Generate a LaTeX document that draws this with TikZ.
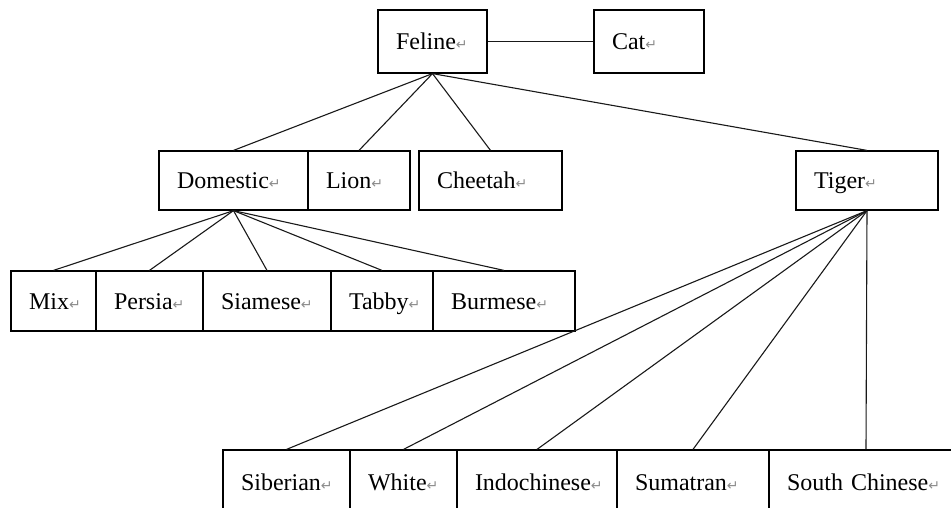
\documentclass[tikz,border=0pt]{standalone}
\usepackage{fontspec}
\setmainfont{Liberation Serif}
\newfontfamily\symfont{DejaVu Sans}
\newcommand{\retmark}{{\symfont\fontsize{14}{14}\selectfont\textcolor{black!45}{↵}}}
\begin{document}
\begin{tikzpicture}[x=1pt,y=-1pt,
  box/.style={draw=black, line width=1.2pt, inner xsep=18pt, inner ysep=0pt,
    align=left, font=\fontsize{24}{24}\selectfont, text height=16pt, text depth=0pt},
  link/.style={draw=black!90, line width=1.1pt}]
\useasboundingbox (0,0) rectangle (951,507);
\clip (0,0) rectangle (951,507);
\fill[white] (0,0) rectangle (951,507);
% top level
\node[box, minimum height=63pt, text width=73pt] (feline) at (432.5,41.5) {Feline\retmark};
\node[box, minimum height=63pt, text width=74pt] (cat) at (649,41.5) {Cat\retmark};
% second level
\node[box, minimum height=59pt, text width=113pt] (domestic) at (233.5,180.5) {Domestic\retmark};
\node[box, minimum height=59pt, text width=66pt] (lion) at (359,180.5) {Lion\retmark};
\node[box, minimum height=59pt, text width=107pt] (cheetah) at (490.5,180.5) {Cheetah\retmark};
\node[box, minimum height=59pt, text width=106pt] (tiger) at (867,180.5) {Tiger\retmark};
% domestic breeds
\node[box, minimum height=60pt, text width=49pt] (mix) at (53.5,301) {Mix\retmark};
\node[box, minimum height=60pt, text width=71pt] (persia) at (149.5,301) {Persia\retmark};
\node[box, minimum height=60pt, text width=92pt] (siamese) at (267,301) {Siamese\retmark};
\node[box, minimum height=60pt, text width=66pt] (tabby) at (382,301) {Tabby\retmark};
\node[box, minimum height=60pt, text width=106pt] (burmese) at (504,301) {Burmese\retmark};
% tiger subspecies
\node[box, minimum height=64pt, text width=91pt] (siberian) at (286.5,482) {Siberian\retmark};
\node[box, minimum height=64pt, text width=71pt] (white) at (403.5,482) {White\retmark};
\node[box, minimum height=64pt, text width=124pt] (indo) at (537,482) {Indochinese\retmark};
\node[box, minimum height=64pt, text width=116pt] (sumatran) at (693,482) {Sumatran\retmark};
\node[box, minimum height=64pt, text width=158pt] (south) at (866,482) {South Chinese\retmark};
% connectors
\draw[link] (feline.east) -- (cat.west);
\foreach \c in {domestic,lion,cheetah,tiger} \draw[link] (feline.south) -- (\c.north);
\foreach \c in {mix,persia,siamese,tabby,burmese} \draw[link] (domestic.south) -- (\c.north);
\foreach \c in {siberian,white,indo,sumatran,south} \draw[link] (tiger.south) -- (\c.north);
\end{tikzpicture}
\end{document}
